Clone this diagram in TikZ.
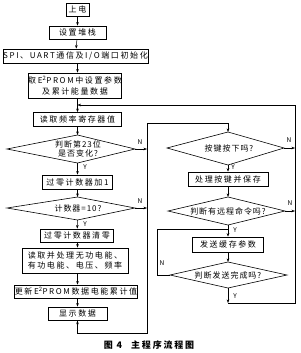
\documentclass[tikz,border=0pt]{standalone}
\usepackage{fontspec}
\setmainfont{Liberation Serif}
\newfontfamily\cjk[LetterSpace=20]{Noto Sans CJK SC}
\newfontfamily\cjkd[LetterSpace=12]{Noto Sans CJK SC}
\newfontfamily\cjklab{Noto Sans CJK SC}
\usetikzlibrary{arrows.meta}
\begin{document}
\begin{tikzpicture}[x=1pt,y=-1pt,
  box/.style={draw, line width=0.8pt, inner sep=0pt, align=center, font=\cjk\fontsize{8}{10.5}\selectfont},
  dtext/.style={align=center, inner sep=0pt, font=\cjkd\fontsize{8}{9.5}\selectfont},
  lab/.style={font=\cjklab\fontsize{6.5}{6.5}\selectfont, inner sep=0pt},
  arr/.style={-{Stealth[length=3.5pt,width=2.6pt]}, line width=0.5pt},
  ln/.style={line width=0.5pt},
  dia/.style={draw, line width=0.6pt}]
\useasboundingbox (0,0) rectangle (300,353);
% left column
\node[box, minimum width=23pt, minimum height=13pt] (n1) at (77.5,9.5) {上电};
\node[box, minimum width=57pt, minimum height=13pt] (n2) at (77.5,32.5) {设置堆栈};
\node[box, minimum width=145pt, minimum height=14pt] (n3) at (75.5,56) {SPI、UART通信及I/O端口初始化};
\node[box, minimum width=92pt, minimum height=25pt] (n4) at (75,85.5) {取E\textsuperscript{2}PROM中设置参数\\及累计能量数据};
\node[box, minimum width=88pt, minimum height=14pt] (n5) at (77.5,119.5) {读取频率寄存器值};
\coordinate (d1l) at (7,149); \coordinate (d1t) at (77.5,135);
\coordinate (d1r) at (135,149); \coordinate (d1b) at (77.5,163);
\draw[dia] (d1l) -- (d1t) -- (d1r) -- (d1b) -- cycle;
\node[dtext] (d1) at (78,149) {判断第23位\\是否变化?};
\node[box, minimum width=70pt, minimum height=14pt] (n6) at (77.5,182) {过零计数器加1};
\coordinate (d2l) at (7,208); \coordinate (d2t) at (77.5,197);
\coordinate (d2r) at (135,208); \coordinate (d2b) at (77.5,220);
\draw[dia] (d2l) -- (d2t) -- (d2r) -- (d2b) -- cycle;
\node[dtext] (d2) at (78,208) {计数器=10?};
\node[box, minimum width=73pt, minimum height=13pt] (n7) at (77,235.5) {过零计数器清零};
\node[box, minimum width=106pt, minimum height=25pt] (n8) at (75,260.5) {读取并处理无功电能、\\有功电能、电压、频率};
\node[box, minimum width=122pt, minimum height=13pt] (n9) at (76,291.5) {更新E\textsuperscript{2}PROM数据电能累计值};
\node[box, minimum width=59pt, minimum height=13pt] (n10) at (77.5,313.5) {显示数据};
% right column
\coordinate (d3l) at (167,148); \coordinate (d3t) at (228,132);
\coordinate (d3r) at (284,148); \coordinate (d3b) at (228,165);
\draw[dia] (d3l) -- (d3t) -- (d3r) -- (d3b) -- cycle;
\node[dtext] (d3) at (229,148) {按键按下吗?};
\node[box, minimum width=80pt, minimum height=14pt] (n11) at (228,179) {处理按键并保存};
\coordinate (d4l) at (168,211); \coordinate (d4t) at (228,197);
\coordinate (d4r) at (285,211); \coordinate (d4b) at (228,225);
\draw[dia] (d4l) -- (d4t) -- (d4r) -- (d4b) -- cycle;
\node[dtext] (d4) at (228,211) {判断有远程命令吗?};
\node[box, minimum width=71pt, minimum height=15pt] (n12) at (228,244.5) {发送缓存参数};
\coordinate (d5l) at (170,275); \coordinate (d5t) at (228,262);
\coordinate (d5r) at (287,275); \coordinate (d5b) at (228,288);
\draw[dia] (d5l) -- (d5t) -- (d5r) -- (d5b) -- cycle;
\node[dtext] (d5) at (228,275) {判断发送完成吗?};
% helper coordinates
\coordinate (j1) at (77.5,105);
\coordinate (a1) at (77.5,326);
\coordinate (b1) at (77.5,333);
\coordinate (b2) at (147,333);
\coordinate (b3) at (147,123);
\coordinate (b4) at (228,123);
\coordinate (m1) at (147,149);
\coordinate (m2) at (147,208);
\coordinate (r1) at (295,148);
\coordinate (r2) at (295,211);
\coordinate (c1) at (157,275);
\coordinate (c2) at (157,229);
\coordinate (c3) at (228,229);
\coordinate (e1) at (228,303);
\coordinate (e2) at (295,303);
\coordinate (e3) at (295,105);
% connectors left
\draw[arr] (n1) -- (n2);
\draw[arr] (n2) -- (n3);
\draw[arr] (n3.south -| n2) -- (n4.north -| n2);
\draw[arr] (n4.south -| n5) -- (n5);
\draw[arr] (n5) -- (d1t);
\draw[arr] (d1b) -- (n6);
\draw[arr] (n6) -- (d2t);
\draw[arr] (d2b) -- (n7);
\draw[arr] (n7.south -| n10) -- (n8.north -| n10);
\draw[arr] (n8.south -| n10) -- (n9.north -| n10);
\draw[arr] (n9.south -| n10) -- (n10);
\draw[arr] (d1r) -- (m1);
\draw[arr] (d2r) -- (m2);
\draw[arr] (n10.south) -- (a1);
\draw[arr] (n10.south) -- (b1) -- (b2) -- (b3) -- (b4) -- (d3t);
% connectors right
\draw[arr] (d3b) -- (n11);
\draw[arr] (n11) -- (d4t);
\draw[arr] (d4b) -- (n12);
\draw[arr] (n12) -- (d5t);
\draw[ln] (d5l) -- (c1) -- (c2) -- (c3);
\draw[arr] (d3r) -- (r1);
\draw[arr] (d4r) -- (r2);
\draw[arr] (d5b) -- (e1);
\draw[ln] (e1) -- (e2) -- (e3);
\draw[arr] (e3) -- (j1);
% labels
\node[lab] (l1) at (140,142) {N};
\node[lab] (l2) at (140,201) {N};
\node[lab] (l3) at (85,167) {Y};
\node[lab] (l4) at (85,224) {Y};
\node[lab] (l5) at (289,140) {N};
\node[lab] (l6) at (290,203) {N};
\node[lab] (l7) at (233,167) {Y};
\node[lab] (l8) at (235,230) {Y};
\node[lab] (l9) at (162,263) {N};
\node[lab] (l10) at (235,296) {Y};
% caption
\node[font=\cjk\fontsize{9}{9}\selectfont\bfseries, inner sep=0pt] (cap) at (149,345) {图 4\quad 主程序流程图};
\end{tikzpicture}
\end{document}
